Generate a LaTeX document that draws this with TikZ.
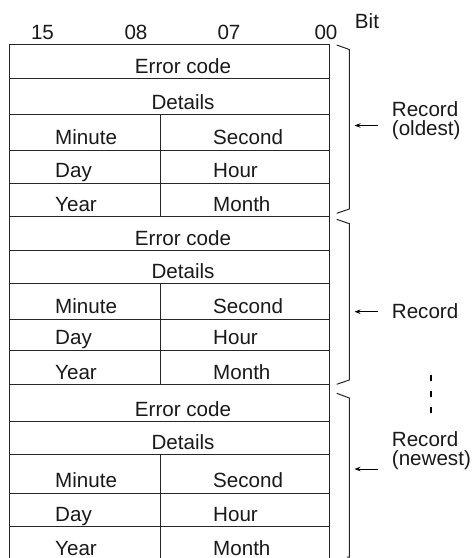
\documentclass[tikz,border=0pt]{standalone}
\usepackage{fontspec}
\setmainfont{Liberation Sans}
\usetikzlibrary{arrows.meta}
\begin{document}
\begin{tikzpicture}[x=1pt,y=-1pt,
  grid/.style={line width=1pt,draw=black!85},
  txt/.style={inner sep=0pt,font=\fontsize{20.6}{19}\selectfont,text=black!90},
  brace/.style={line width=1pt,draw=black!85},
  ptr/.style={line width=1pt,-{Stealth[length=6pt,width=4.5pt]}},
  dots/.style={line width=2pt,dash pattern=on 6pt off 10.2pt}]
\useasboundingbox (0,0) rectangle (472,558);
% outer frame
\draw[grid] (9.5,558) -- (9.5,44.3) -- (329.3,44.3) -- (329.3,558);
\foreach \y in {78.7,114.3,150.3,183,216,250,283.3,319.3,350,384.5,421.7,454.5,493.3,526.5}
  \draw[grid] (9.5,\y) -- (329.3,\y);
% dividers
\draw[grid] (160,114.3) -- (160,216);
\draw[grid] (160,283.3) -- (160,384.5);
\draw[grid] (160,454.5) -- (160,558);
% bit labels
\node[txt,anchor=base] (b15) at (42.5,39.3) {15};
\node[txt,anchor=base] (b08) at (136,39.3) {08};
\node[txt,anchor=base] (b07) at (229,39.3) {07};
\node[txt,anchor=base] (b00) at (326,39.3) {00};
\node[txt,anchor=base] (bit) at (367,28.3) {Bit};
% cell texts
\foreach \b/\e/\d/\m/\h/\yy in {1/78.7/114.3/150.3/183/216, 2/250/283.3/319.3/350/384.5, 3/421.7/454.5/493.3/526.5/560}{
  \node[txt,anchor=base] (err\b) at (183,\e-5) {Error code};
  \node[txt,anchor=base] (det\b) at (183,\d-5) {Details};
  \node[txt,anchor=base west] (min\b) at (55,\m-5.5) {Minute};
  \node[txt,anchor=base west] (sec\b) at (213,\m-5.5) {Second};
  \node[txt,anchor=base west] (day\b) at (55,\h-5.5) {Day};
  \node[txt,anchor=base west] (hour\b) at (213,\h-5.5) {Hour};
  \node[txt,anchor=base west] (year\b) at (55,\yy-5) {Year};
  \node[txt,anchor=base west] (mon\b) at (213,\yy-5) {Month};
}
% braces
\draw[brace] (336.7,45) -- (349.3,49.5) -- (349.3,209) -- (336.7,213.3);
\draw[brace] (336.7,219.3) -- (349.3,223.7) -- (349.3,380) -- (336.7,384.3);
\draw[brace] (336.7,393.3) -- (349.3,398) -- (349.3,557) -- (347,557);
% record labels
\node[txt,anchor=base west,align=left] (rec1) at (391.7,135.5) {Record\\(oldest)};
\node[txt,anchor=base west] (rec2) at (391.7,318.5) {Record};
\node[txt,anchor=base west,align=left] (rec3) at (391.7,465) {Record\\(newest)};
% arrows
\coordinate (a1s) at (378,125.5); \coordinate (a1e) at (354.5,125.5);
\coordinate (a2s) at (378,311.7); \coordinate (a2e) at (354.5,311.7);
\coordinate (a3s) at (378,469); \coordinate (a3e) at (354.5,469);
\draw[ptr] (a1s) -- (a1e);
\draw[ptr] (a2s) -- (a2e);
\draw[ptr] (a3s) -- (a3e);
% continuation dots
\coordinate (d1) at (430.7,374.7); \coordinate (d2) at (430.7,413.2);
\draw[dots] (d1) -- (d2);
\end{tikzpicture}
\end{document}
